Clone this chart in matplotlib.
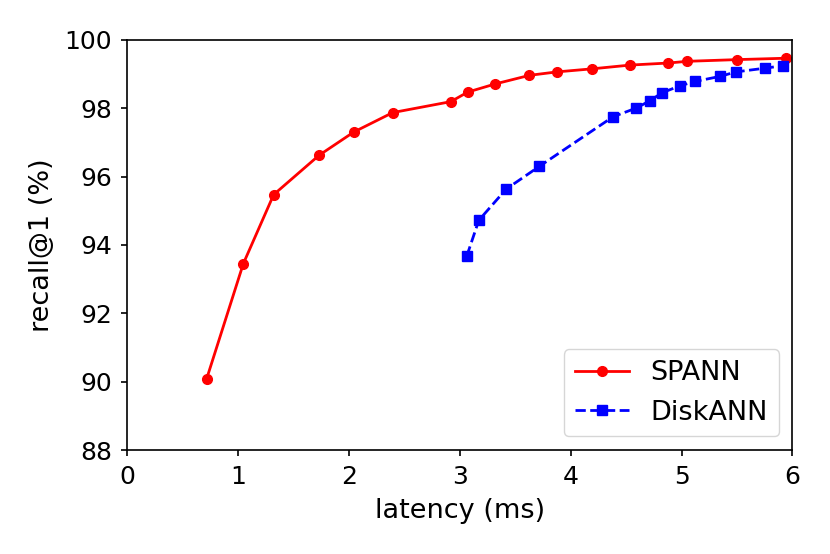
import matplotlib
matplotlib.use('Agg')
import matplotlib.pyplot as plt

# data
spann_lat = [0.715, 1.045, 1.319, 1.728, 2.041, 2.393, 2.917, 3.070, 3.320, 3.627,
             3.873, 4.192, 4.535, 4.881, 5.050, 5.501, 5.937]
spann_rec = [90.09, 93.45, 95.47, 96.62, 97.30, 97.87, 98.19, 98.47, 98.71, 98.96,
             99.06, 99.15, 99.26, 99.32, 99.37, 99.42, 99.46]
disk_lat = [3.061, 3.170, 3.416, 3.717, 4.382, 4.589, 4.710, 4.824, 4.981, 5.119,
            5.348, 5.489, 5.754, 5.910]
disk_rec = [93.67, 94.72, 95.63, 96.30, 97.75, 98.00, 98.21, 98.45, 98.65, 98.78,
            98.93, 99.06, 99.17, 99.24]

fig = plt.figure(figsize=(8.3, 5.54), dpi=100)
ax = fig.add_axes([0.1536, 0.1877, 0.8012, 0.7405])

ax.plot(spann_lat, spann_rec, color='red', marker='o', markersize=7, linewidth=2, label='SPANN')
ax.plot(disk_lat, disk_rec, color='blue', marker='s', markersize=7, linewidth=2,
        linestyle='--', label='DiskANN')

ax.set_xlim(0, 6)
ax.set_ylim(88, 100)
ax.set_xticks(range(0, 7))
ax.set_yticks(range(88, 101, 2))
ax.tick_params(labelsize=18, width=1.2, length=4.5, pad=6.5)
for s in ax.spines.values():
    s.set_linewidth(1.2)
ax.set_xlabel('latency (ms)', fontsize=19.5, labelpad=6)
ax.set_ylabel('recall@1 (%)', fontsize=19.5, labelpad=7)
ax.legend(loc='lower right', fontsize=19.5)

fig.savefig('out.png', dpi=100)
